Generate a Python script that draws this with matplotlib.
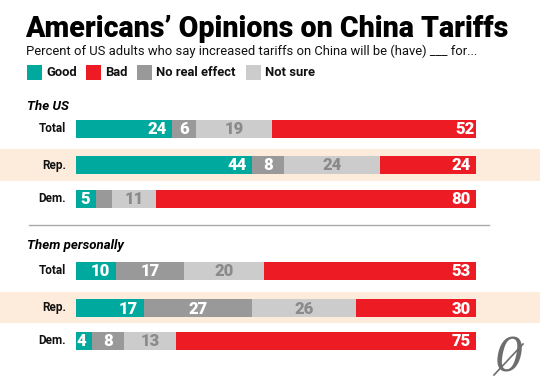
import matplotlib.pyplot as plt
from matplotlib.patches import Rectangle
from matplotlib.lines import Line2D

# data
groups = ['Total', 'Rep.', 'Dem.']
good_us = [24, 44, 5]
noeff_us = [6, 8, 4]
notsure_us = [19, 24, 11]
bad_us = [52, 24, 80]

good_me = [10, 17, 4]
noeff_me = [17, 27, 8]
notsure_me = [20, 26, 13]
bad_me = [53, 30, 75]

cats = ['Good', 'Bad', 'No real effect', 'Not sure']
colors = {'Good': '#00A99D', 'Bad': '#ED1C24',
          'No real effect': '#999999', 'Not sure': '#CCCCCC'}
txtcol = {'Good': 'white', 'Bad': 'white',
          'No real effect': 'white', 'Not sure': '#8a8a8a'}

W, H = 540, 390
fig = plt.figure(figsize=(W / 100, H / 100), dpi=100)
fig.patch.set_facecolor('white')

# background axes in pixel coords for text/decoration
bg = fig.add_axes([0, 0, 1, 1])
bg.set_xlim(0, W)
bg.set_ylim(H, 0)
bg.axis('off')

FONT = 'Roboto'

bg.text(25, 37, 'Americans\u2019 Opinions on China Tariffs', fontsize=20.6,
        fontweight='black', family=FONT, va='baseline', ha='left')
bg.text(26, 55, 'Percent of US adults who say increased tariffs on China will be (have) ___ for...',
        fontsize=9.4, family=FONT, va='baseline', ha='left', color='#111111')

# legend
leg_x = [27, 86, 137, 246]
for x, c in zip(leg_x, cats):
    bg.add_patch(Rectangle((x, 65), 15, 15, color=colors[c], lw=0))
    bg.text(x + 19, 72.5, c, fontsize=9.4, fontweight='bold', family=FONT,
            va='center', ha='left', color='#111111')

# section titles
bg.text(27, 106, 'The US', fontsize=9.5, fontweight='bold', style='italic',
        family=FONT, va='center')
bg.text(27, 245, 'Them personally', fontsize=9.5, fontweight='bold', style='italic',
        family=FONT, va='center')

# rep highlight bands and separator
bg.add_patch(Rectangle((0, 149), W, 32, color='#FDECDB', lw=0, zorder=0))
bg.add_patch(Rectangle((0, 292), W, 31, color='#FDECDB', lw=0, zorder=0))
bg.add_line(Line2D([29, 489], [225, 225], color='#aaaaaa', lw=1))

# logo
bg.text(509, 359, '0', fontsize=33, family='DejaVu Serif', style='italic',
        color='#6d6d6d', ha='center', va='center')
bg.add_line(Line2D([494, 523], [375, 344], color='#6d6d6d', lw=1.2))

# bar axes
x0, x1 = 76, 476
ax = fig.add_axes([x0 / W, 0, (x1 - x0) / W, 1])
ax.set_xlim(0, 100)
ax.set_ylim(H, 0)
ax.axis('off')
ax.patch.set_alpha(0)

sections = [
    ([129, 165, 199], [good_us, noeff_us, notsure_us, bad_us]),
    ([271, 308, 341], [good_me, noeff_me, notsure_me, bad_me]),
]
order = ['Good', 'No real effect', 'Not sure', 'Bad']
hidden = {(0, 2, 'No real effect')}

for si, (ys, vals) in enumerate(sections):
    for gi, (y, g) in enumerate(zip(ys, groups)):
        left = 0
        for c, v in zip(order, vals):
            val = v[gi]
            ax.barh(y, val, left=left, height=18, color=colors[c], lw=0)
            if (si, gi, c) not in hidden:
                if c in ('Good', 'Bad'):
                    ax.text(left + val - 1.4, y + 0.5, str(val), ha='right', va='center',
                            fontsize=12, fontweight='black', family=FONT, color=txtcol[c])
                else:
                    ax.text(left + val / 2, y + 0.5, str(val), ha='center', va='center',
                            fontsize=12, fontweight='black', family=FONT, color=txtcol[c])
            left += val
        bg.text(66, y, g, ha='right', va='center', fontsize=8.5,
                fontweight='bold', family=FONT, color='#111111')

fig.savefig('out.png', dpi=100)
